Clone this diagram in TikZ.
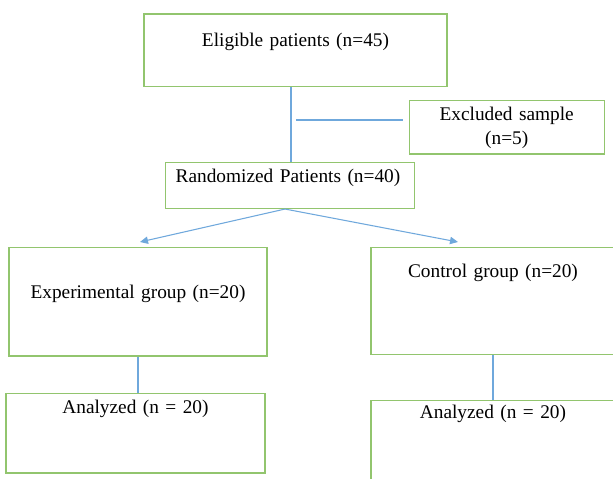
\documentclass[tikz,border=0pt]{standalone}
\usepackage{fontspec}
\setmainfont{Liberation Serif}
\usetikzlibrary{positioning,arrows.meta}
\definecolor{boxgreen}{HTML}{92C56E}
\definecolor{linkblue}{HTML}{6FA8DC}

\begin{document}
\begin{tikzpicture}[x=0.75pt,y=-0.75pt,box/.style={draw=boxgreen,line width=1pt,anchor=north,inner sep=0pt,align=center,font=\fontsize{14.5}{15}\selectfont},link/.style={draw=linkblue,line width=0.8pt},arr/.style={link,-{Triangle[length=6pt,width=5.5pt]}}]
\useasboundingbox (0,0) rectangle (613,478);
\clip (0,0) rectangle (613,478);
\node[box,text width=227.25pt,text height=24.5pt,text depth=30pt] (elig) at (295.5,13.3) {Eligible patients (n=45)};
\node[box,font=\fontsize{14.5}{17.5}\selectfont,text width=146.25pt,text height=15pt,text depth=25pt] (excl) at (506.7,100) {Excluded sample\\(n=5)};
\node[box,align=left,inner xsep=7.5pt,text width=171.5pt,text height=14.85pt,text depth=19.65pt] (rand) at (290,161.7) {Randomized Patients (n=40)};
\node[box,text width=193.5pt,text height=38.7pt,text depth=42.75pt] (exp) at (138,246.7) {Experimental group (n=20)};
\node[box,text width=183pt,text height=22.65pt,text depth=58pt] (ctrl) at (493,246.5) {Control group (n=20)};
\node[box,text width=194.25pt,text height=15.2pt,text depth=44.25pt] (anL) at (135.5,393) {Analyzed (n = 20)};
\node[box,text width=183pt,text height=14.1pt,text depth=47.8pt] (anR) at (493,399.5) {Analyzed (n = 20)};
\coordinate (vx) at (291,0);
\draw[link] (vx |- elig.south) -- (vx |- rand.north);
\coordinate (exstart) at (296,120);
\draw[link] (exstart) -- ([xshift=-4.5pt]exstart -| excl.west);
\coordinate (split) at ([xshift=-3.75pt]rand.south);
\coordinate (tipL) at (140,242);
\coordinate (tipR) at (458,242);
\draw[arr] (split) -- (tipL);
\draw[arr] (split) -- (tipR);
\draw[link] (exp.south) -- (exp.south |- anL.north);
\draw[link] (ctrl.south) -- (ctrl.south |- anR.north);
\end{tikzpicture}
\end{document}
